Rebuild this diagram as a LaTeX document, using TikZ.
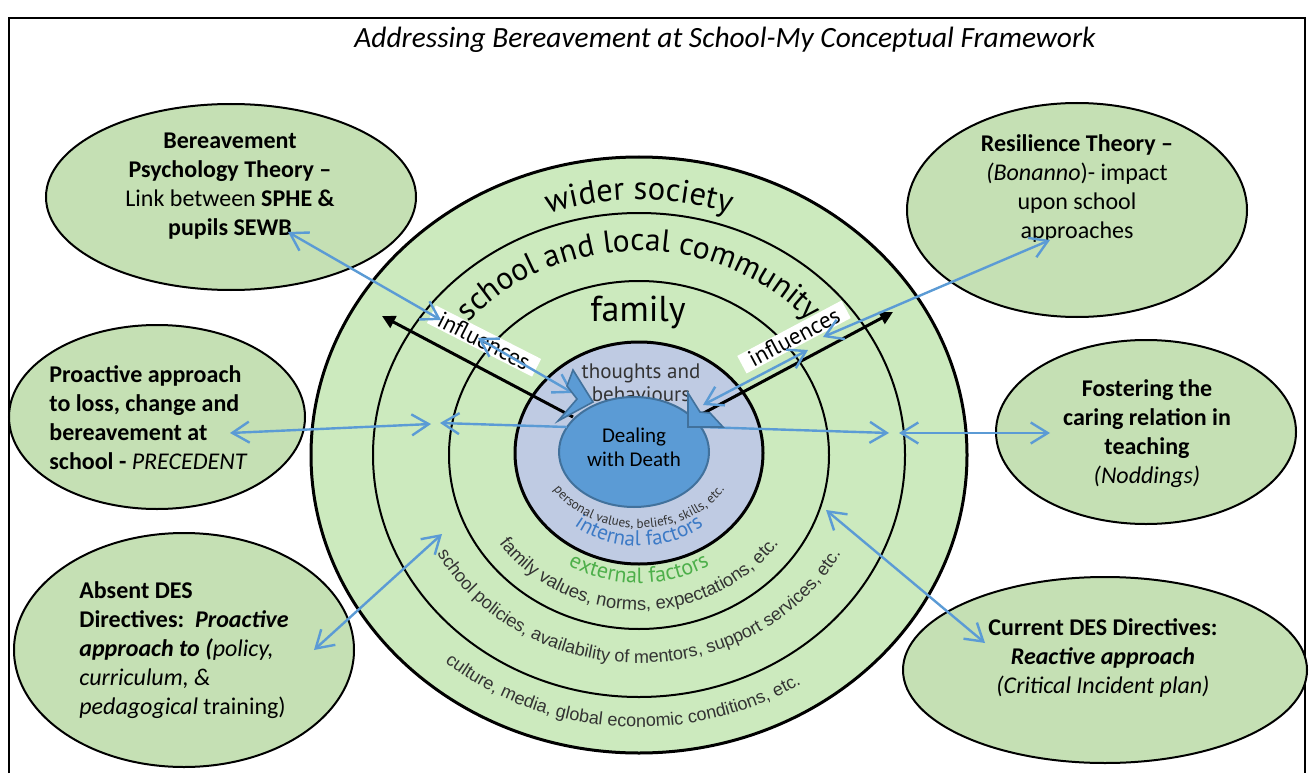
\documentclass[tikz,border=0pt]{standalone}
\usepackage{fontspec}
\setmainfont{Carlito}
\newfontfamily\ptsans{PT Sans}
\newfontfamily\arialf{Liberation Sans}
\usetikzlibrary{shapes.geometric,arrows.meta,decorations.text}
\definecolor{ringgreen}{HTML}{CCEABE}
\definecolor{ellgreen}{HTML}{C5E0B4}
\definecolor{innerblue}{HTML}{BFCBE3}
\definecolor{coreblue}{HTML}{5B9BD5}
\definecolor{coreedge}{HTML}{41719C}
\definecolor{arrblue}{HTML}{5B9BD5}
\definecolor{intblue}{HTML}{3C7AC6}
\definecolor{extgreen}{HTML}{4DAF4A}
\definecolor{darktxt}{HTML}{333333}
\tikzset{
  concept/.style={ellipse, draw=black, line width=1pt, fill=ellgreen, inner sep=0pt, outer sep=0pt},
  ctext/.style={align=center, font=\fontsize{12pt}{14.5pt}\selectfont, inner sep=0pt},
  ltext/.style={align=left, font=\fontsize{12pt}{14.5pt}\selectfont, inner sep=0pt, anchor=west},
  ringshape/.style={ellipse, draw=black, inner sep=0pt, outer sep=0pt},
  blueline/.style={draw=arrblue, line width=1.2pt},
  blackarrow/.style={draw=black, line width=1.5pt, -{Triangle[length=6.5pt,width=6.5pt]}},
  inflbox/.style={fill=white, inner xsep=4.5pt, inner ysep=0.8pt, font=\ptsans\fontsize{11.5pt}{12pt}\selectfont},
  notch/.style={fill=coreblue, draw=coreedge, line width=0.8pt, line join=miter},
  >={Straight Barb[length=8.5pt,width=10.5pt]}
}
\begin{document}
\begin{tikzpicture}[x=0.5pt,y=0.5pt]
\useasboundingbox (0,0) rectangle (1312,773);
% frame
\draw[line width=1pt] (9,0) -- (9,755) -- (1305,755) -- (1305,0);
\node[font=\fontsize{14.7pt}{17pt}\selectfont\itshape, inner sep=0pt] (title) at (725,733) {Addressing Bereavement at School-My Conceptual Framework};

% rings
\node[ringshape, fill=ringgreen, line width=1.5pt, minimum width=328pt, minimum height=298pt] (c1) at (639,318) {};
\node[ringshape, line width=1pt, minimum width=266pt, minimum height=242pt] (c2) at (639,318) {};
\node[ringshape, line width=1pt, minimum width=190pt, minimum height=174pt] (c3) at (639,318) {};
\node[ringshape, fill=innerblue, line width=1.5pt, minimum width=124pt, minimum height=111pt] (c4) at (639,320) {};

% ring labels (top)
\path[decorate, decoration={text along path, text align=center,
  text={|\ptsans\fontsize{16.3pt}{16pt}\selectfont|wider society}}]
  ([shift={(140:280 and 255)}]639,318) arc[start angle=140, end angle=40, x radius=280, y radius=255];
\path[decorate, decoration={text along path, text align=center,
  text={|\ptsans\fontsize{15.8pt}{16pt}\selectfont|school and local community}}]
  ([shift={(165:224 and 204)}]639,318) arc[start angle=165, end angle=15, x radius=224, y radius=204];
\node[font=\ptsans\fontsize{18pt}{18pt}\selectfont, inner sep=0pt] (fam) at (638,461) {family};

% ring labels (bottom)
\path[decorate, decoration={text along path, text align=center,
  text={|\arialf\fontsize{9pt}{9pt}\selectfont\color{darktxt}|culture, media, global economic conditions, etc.}}]
  ([shift={(186:300 and 272)}]639,318) arc[start angle=186, end angle=346, x radius=300, y radius=272];
\path[decorate, decoration={text along path, text align=center,
  text={|\arialf\fontsize{9pt}{9pt}\selectfont\color{darktxt}|school policies, availability of mentors, support services, etc.}}]
  ([shift={(185:229 and 208)}]639,318) arc[start angle=185, end angle=355, x radius=229, y radius=208];
\path[decorate, decoration={text along path, text align=center,
  text={|\arialf\fontsize{9.2pt}{9pt}\selectfont\color{darktxt}|family values, norms, expectations, etc.}}]
  ([shift={(190:170 and 155)}]639,318) arc[start angle=190, end angle=350, x radius=170, y radius=155];
\path[decorate, decoration={text along path, text align=center,
  text={|\ptsans\fontsize{11pt}{11pt}\selectfont\color{extgreen}|external factors}}]
  ([shift={(200:141 and 128)}]639,318) arc[start angle=200, end angle=340, x radius=141, y radius=128];
\path[decorate, decoration={text along path, text align=center,
  text={|\ptsans\fontsize{10.6pt}{10.6pt}\selectfont\color{intblue}|internal factors}}]
  ([shift={(200:104 and 93)}]639,320) arc[start angle=200, end angle=340, x radius=104, y radius=93];
\path[decorate, decoration={text along path, text align=center,
  text={|\ptsans\fontsize{6.6pt}{6.6pt}\selectfont\color{darktxt}|personal values, beliefs, skills, etc.}}]
  ([shift={(185:98 and 75)}]639,320) arc[start angle=185, end angle=355, x radius=98, y radius=75];

% thoughts and behaviours, core
\node[align=center, font=\ptsans\fontsize{10.5pt}{11.5pt}\selectfont, text=darktxt, inner sep=0pt] (tb) at (641,390) {thoughts and\\behaviours};
\node[ellipse, fill=coreblue, draw=coreedge, line width=1pt, inner sep=0pt, minimum width=75pt, minimum height=55pt] (core) at (634,321) {};
\node[align=center, font=\fontsize{10.5pt}{12pt}\selectfont, inner sep=0pt] (coretext) at (634,326) {Dealing\\with Death};

% influences labels
\node[inflbox, rotate=-27] (inf1) at (484,432) {influences};
\node[inflbox, rotate=28] (inf2) at (794,436) {influences};

% concept ellipses
\node[concept, minimum width=185pt, minimum height=93pt] (e1) at (231,576) {};
\node[concept, minimum width=170pt, minimum height=107pt] (e2) at (1077,563) {};
\node[concept, minimum width=148pt, minimum height=92pt] (e3) at (157,356) {};
\node[concept, minimum width=150pt, minimum height=92pt] (e4) at (1146,341) {};
\node[concept, minimum width=170pt, minimum height=117pt] (e5) at (184,123) {};
\node[concept, minimum width=202pt, minimum height=93pt] (e6) at (1105,103) {};

\node[ctext] (t1) at (230,587) {\textbf{Bereavement}\\\textbf{Psychology Theory –}\\Link between \textbf{SPHE \&}\\\textbf{pupils SEWB}};
\node[ctext] (t2) at (1077,584) {\textbf{Resilience Theory –}\\\textit{(Bonanno})- impact\\upon school\\approaches};
\node[ltext] (t3) at (49,355) {\textbf{Proactive approach}\\\textbf{to loss, change and}\\\textbf{bereavement at}\\\textbf{school -} \textit{PRECEDENT}};
\node[ctext] (t4) at (1147,339) {\textbf{Fostering the}\\\textbf{caring relation in}\\\textbf{teaching}\\\textit{(Noddings)}};
\node[ltext] (t5) at (79,123) {\textbf{Absent DES}\\\textbf{Directives:\ \ \textit{Proactive}}\\\textbf{\textit{approach to (}}\textit{policy,}\\\textit{curriculum, \&}\\\textit{pedagogical} training)};
\node[ctext] (t6) at (1103,115) {\textbf{Current DES Directives:}\\\textbf{\textit{Reactive approach}}\\\textit{(Critical Incident plan)}};

% arrow end points
\coordinate (a1s) at (288,541);
\coordinate (a1e) at (441,453);
\coordinate (a2s) at (478,435);
\coordinate (a2e) at (573,380);
\coordinate (a3s) at (230,340);
\coordinate (a3e) at (431,349);
\coordinate (a4s) at (567,346);
\coordinate (a4e) at (440,350);
\coordinate (a5s) at (1050,533);
\coordinate (a5e) at (823,436);
\coordinate (a6s) at (808,423);
\coordinate (a6e) at (703,368);
\coordinate (a7s) at (701,346);
\coordinate (a7e) at (889,340);
\coordinate (a8s) at (899,340);
\coordinate (a8e) at (1050,340);
\coordinate (a9s) at (314,123);
\coordinate (a9e) at (442,239);
\coordinate (a10s) at (826,263);
\coordinate (a10e) at (985,130);
\coordinate (b1s) at (573,356);
\coordinate (b1e) at (382,457);
\coordinate (b2s) at (700,358);
\coordinate (b2e) at (893,461);

% black arrows
\draw[blackarrow] (b1s) -- (b1e);
\draw[blackarrow] (b2s) -- (b2e);

% blue arrows
\draw[blueline, <->] (a1s) -- (a1e);
\draw[blueline, <->] (a2s) -- (a2e);
\draw[blueline, <->] (a3s) -- (a3e);
\draw[blueline, ->] (a4s) -- (a4e);
\draw[blueline, <->] (a5s) -- (a5e);
\draw[blueline, <->] (a6s) -- (a6e);
\draw[blueline, ->] (a7s) -- (a7e);
\draw[blueline, <->] (a8s) -- (a8e);
\draw[blueline, <->] (a9s) -- (a9e);
\draw[blueline, <->] (a10s) -- (a10e);

% notched block arrow heads
\draw[notch] (573,403) -- (593,371) -- (558,352) -- (577,374) -- (567,387) -- cycle;
\draw[notch] (688,380) -- (700,361) -- (710,360) -- (723,346) -- (688,346) -- cycle;
\end{tikzpicture}
\end{document}
